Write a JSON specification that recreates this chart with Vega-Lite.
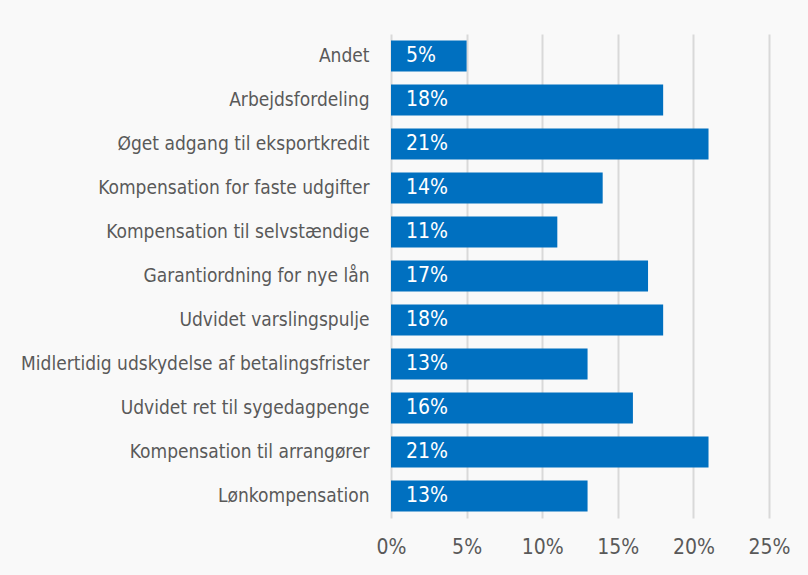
{
  "$schema": "https://vega.github.io/schema/vega-lite/v6.json",
  "width": 378,
  "height": 484,
  "autosize": {"type": "none"},
  "padding": {"left": 391, "top": 34, "right": 39, "bottom": 57},
  "background": "#f9f9f9",
  "config": {
    "view": {"stroke": null},
    "font": "DejaVu Sans Condensed, Liberation Sans Narrow, Roboto"
  },
  "data": {
    "values": [
      {"kategori": "Andet", "andel": 0.05},
      {"kategori": "Arbejdsfordeling", "andel": 0.18},
      {"kategori": "Øget adgang til eksportkredit", "andel": 0.21},
      {"kategori": "Kompensation for faste udgifter", "andel": 0.14},
      {"kategori": "Kompensation til selvstændige", "andel": 0.11},
      {"kategori": "Garantiordning for nye lån", "andel": 0.17},
      {"kategori": "Udvidet varslingspulje", "andel": 0.18},
      {"kategori": "Midlertidig udskydelse af betalingsfrister", "andel": 0.13},
      {"kategori": "Udvidet ret til sygedagpenge", "andel": 0.16},
      {"kategori": "Kompensation til arrangører", "andel": 0.21},
      {"kategori": "Lønkompensation", "andel": 0.13}
    ]
  },
  "encoding": {
    "y": {
      "field": "kategori",
      "type": "nominal",
      "sort": null,
      "scale": {"paddingInner": 0.3, "paddingOuter": 0.15},
      "axis": {
        "title": null,
        "domain": false,
        "ticks": false,
        "labelPadding": 22,
        "labelFontSize": 19,
        "labelColor": "#595959",
        "labelLimit": 400
      }
    },
    "x": {
      "field": "andel",
      "type": "quantitative",
      "scale": {"domain": [0, 0.25], "nice": false},
      "axis": {
        "title": null,
        "format": ".0%",
        "values": [0, 0.05, 0.1, 0.15, 0.2, 0.25],
        "domain": false,
        "ticks": false,
        "grid": true,
        "gridColor": "#d9d9d9",
        "gridWidth": 2,
        "labelFlush": false,
        "labelPadding": 18,
        "labelFontSize": 21,
        "labelColor": "#595959"
      }
    }
  },
  "layer": [
    {"mark": {"type": "bar", "color": "#0070C0"}},
    {
      "mark": {"type": "text", "align": "left", "dx": 15, "color": "white", "fontSize": 21, "baseline": "middle"},
      "encoding": {
        "x": {"datum": 0},
        "text": {"field": "andel", "type": "quantitative", "format": ".0%"}
      }
    }
  ]
}
